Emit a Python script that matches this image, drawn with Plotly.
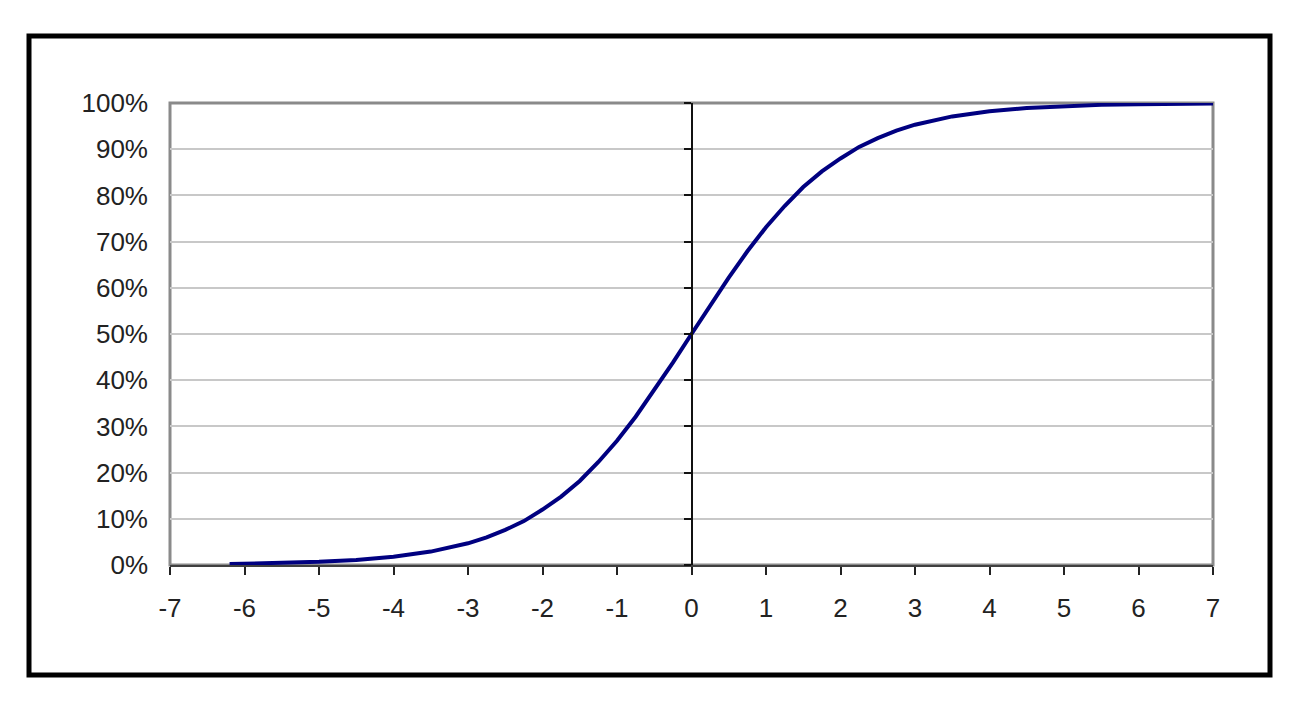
import plotly.graph_objects as go

# Values
x_vals = [-6.2, -5.5, -5, -4.5, -4, -3.5, -3, -2.75, -2.5, -2.25, -2, -1.75, -1.5, -1.25,
          -1, -0.75, -0.5, -0.25, 0, 0.25, 0.5, 0.75, 1, 1.25, 1.5, 1.75, 2, 2.25, 2.5,
          2.75, 3, 3.5, 4, 4.5, 5, 5.5, 6, 7]
y_pct = [0.2, 0.4, 0.7, 1.1, 1.8, 2.9, 4.7, 6.0, 7.6, 9.5, 12.0, 14.8, 18.2, 22.3,
         26.9, 32.1, 37.8, 43.8, 50.0, 56.2, 62.2, 67.9, 73.1, 77.7, 81.8, 85.2, 88.0, 90.5, 92.4,
         94.0, 95.3, 97.1, 98.2, 98.9, 99.3, 99.6, 99.75, 99.9]
x_ticks = list(range(-7, 8))
y_ticks = [i / 10 for i in range(11)]
y_labels = [f"{i * 10}%" for i in range(11)]

y_vals = [v / 100 for v in y_pct]

fig = go.Figure()
fig.add_trace(go.Scatter(x=x_vals, y=y_vals, mode="lines",
                         line=dict(color="#000080", width=4),
                         cliponaxis=False, showlegend=False))
# invisible trace for the center y axis
fig.add_trace(go.Scatter(x=[0], y=[0], yaxis="y2", mode="markers",
                         marker=dict(opacity=0), showlegend=False, hoverinfo="skip"))

# page has an 8px body margin
OFF = 8
L, R, T, B = 170, 1213, 103, 565
W, H = 1304, 706
pw, ph = R - L, B - T

def px(xp):
    return (xp - L) / pw

def py(yp):
    return (B - yp) / ph

font = dict(family="Liberation Sans, Arial, sans-serif", size=26, color="#222222")

fig.update_layout(
    width=W, height=H,
    margin=dict(l=L - OFF, r=W - R + OFF, t=T - OFF, b=H - B + OFF),
    paper_bgcolor="white", plot_bgcolor="white",
    font=font,
    xaxis=dict(range=[-7, 7], tickvals=x_ticks, ticktext=[str(v) for v in x_ticks],
               showgrid=False, zeroline=False, showline=True, linecolor="#404040", linewidth=2,
               ticks="outside", ticklen=8, tickwidth=2, tickcolor="#222222",
               ticklabelstandoff=11, tickfont=font),
    yaxis=dict(range=[0, 1], tickvals=y_ticks, ticktext=y_labels,
               showgrid=True, gridcolor="#c8c8c8", gridwidth=2,
               zeroline=False, showline=False, ticks="",
               ticklabelstandoff=21, tickfont=font),
    yaxis2=dict(range=[0, 1], overlaying="y", anchor="free", position=0.5, side="left",
                tickvals=y_ticks, showticklabels=False, showgrid=False, zeroline=False,
                showline=True, linecolor="#111111", linewidth=1.5,
                ticks="outside", ticklen=7, tickwidth=2, tickcolor="#111111"),
    shapes=[
        dict(type="rect", xref="paper", yref="paper", x0=0, x1=1, y0=0, y1=1,
             line=dict(color="#8a8a8a", width=3), layer="below"),
        dict(type="rect", xref="paper", yref="paper",
             x0=px(29), x1=px(1270), y0=py(675), y1=py(36),
             line=dict(color="#000000", width=5)),
    ],
)

fig.write_html("out.html")
